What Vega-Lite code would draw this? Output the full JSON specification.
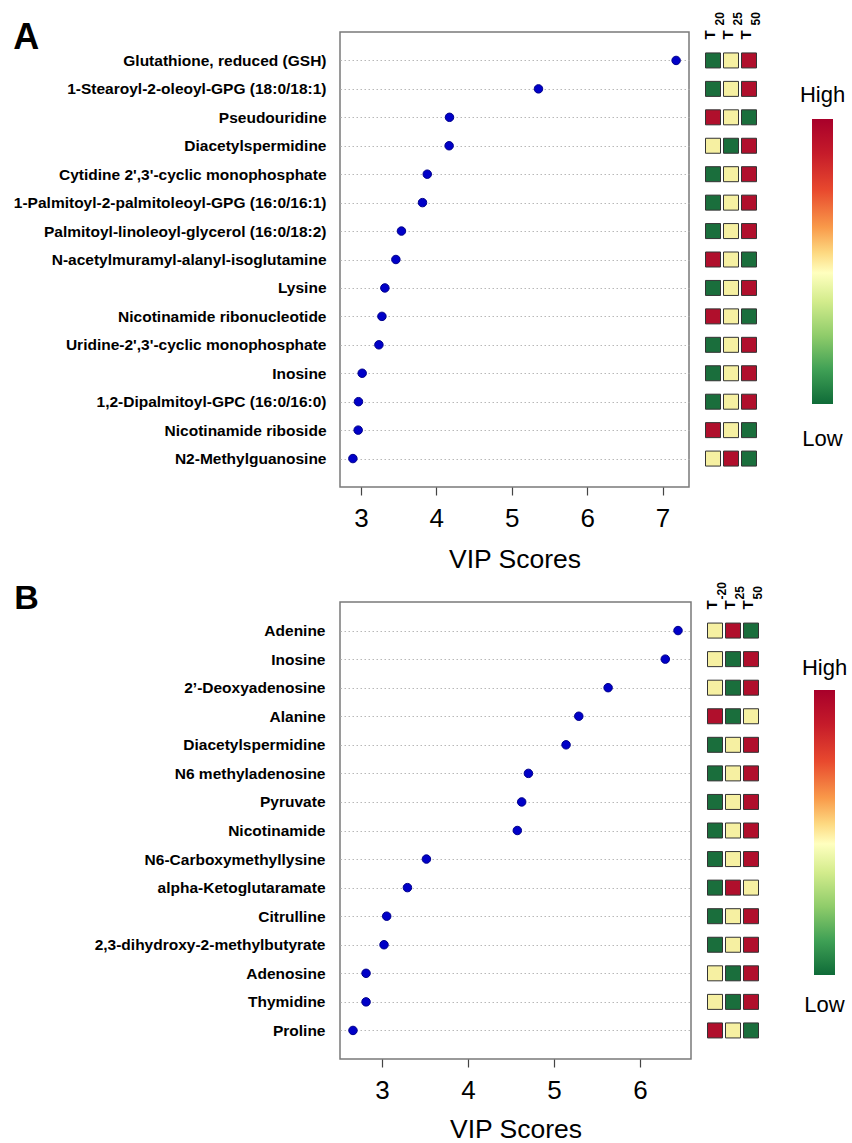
{
  "$schema": "https://vega.github.io/schema/vega-lite/v6.json",
  "background": "white",
  "padding": {"left": 12, "top": 11, "right": 5, "bottom": 0},
  "config": {
    "font": "Liberation Sans",
    "view": {"stroke": "#7a7a7a", "strokeWidth": 1.5},
    "axis": {"labelColor": "black", "titleColor": "black"}
  },
  "datasets": {
    "A": [
      {"metabolite": "Glutathione, reduced (GSH)", "vip": 7.18, "t20": "Low", "t25": "Mid", "t50": "High"},
      {"metabolite": "1-Stearoyl-2-oleoyl-GPG (18:0/18:1)", "vip": 5.355, "t20": "Low", "t25": "Mid", "t50": "High"},
      {"metabolite": "Pseudouridine", "vip": 4.175, "t20": "High", "t25": "Mid", "t50": "Low"},
      {"metabolite": "Diacetylspermidine", "vip": 4.17, "t20": "Mid", "t25": "Low", "t50": "High"},
      {"metabolite": "Cytidine 2',3'-cyclic monophosphate", "vip": 3.88, "t20": "Low", "t25": "Mid", "t50": "High"},
      {"metabolite": "1-Palmitoyl-2-palmitoleoyl-GPG (16:0/16:1)", "vip": 3.817, "t20": "Low", "t25": "Mid", "t50": "High"},
      {"metabolite": "Palmitoyl-linoleoyl-glycerol (16:0/18:2)", "vip": 3.538, "t20": "Low", "t25": "Mid", "t50": "High"},
      {"metabolite": "N-acetylmuramyl-alanyl-isoglutamine", "vip": 3.464, "t20": "High", "t25": "Mid", "t50": "Low"},
      {"metabolite": "Lysine", "vip": 3.318, "t20": "Low", "t25": "Mid", "t50": "High"},
      {"metabolite": "Nicotinamide ribonucleotide", "vip": 3.279, "t20": "High", "t25": "Mid", "t50": "Low"},
      {"metabolite": "Uridine-2',3'-cyclic monophosphate", "vip": 3.239, "t20": "Low", "t25": "Mid", "t50": "High"},
      {"metabolite": "Inosine", "vip": 3.017, "t20": "Low", "t25": "Mid", "t50": "High"},
      {"metabolite": "1,2-Dipalmitoyl-GPC (16:0/16:0)", "vip": 2.968, "t20": "Low", "t25": "Mid", "t50": "High"},
      {"metabolite": "Nicotinamide riboside", "vip": 2.964, "t20": "High", "t25": "Mid", "t50": "Low"},
      {"metabolite": "N2-Methylguanosine", "vip": 2.894, "t20": "Mid", "t25": "High", "t50": "Low"}
    ],
    "B": [
      {"metabolite": "Adenine", "vip": 6.442, "tm20": "Mid", "t25": "High", "t50": "Low"},
      {"metabolite": "Inosine", "vip": 6.294, "tm20": "Mid", "t25": "Low", "t50": "High"},
      {"metabolite": "2’-Deoxyadenosine", "vip": 5.629, "tm20": "Mid", "t25": "Low", "t50": "High"},
      {"metabolite": "Alanine", "vip": 5.288, "tm20": "High", "t25": "Low", "t50": "Mid"},
      {"metabolite": "Diacetylspermidine", "vip": 5.14, "tm20": "Low", "t25": "Mid", "t50": "High"},
      {"metabolite": "N6 methyladenosine", "vip": 4.702, "tm20": "Low", "t25": "Mid", "t50": "High"},
      {"metabolite": "Pyruvate", "vip": 4.624, "tm20": "Low", "t25": "Mid", "t50": "High"},
      {"metabolite": "Nicotinamide", "vip": 4.573, "tm20": "Low", "t25": "Mid", "t50": "High"},
      {"metabolite": "N6-Carboxymethyllysine", "vip": 3.516, "tm20": "Low", "t25": "Mid", "t50": "High"},
      {"metabolite": "alpha-Ketoglutaramate", "vip": 3.295, "tm20": "Low", "t25": "High", "t50": "Mid"},
      {"metabolite": "Citrulline", "vip": 3.054, "tm20": "Low", "t25": "Mid", "t50": "High"},
      {"metabolite": "2,3-dihydroxy-2-methylbutyrate", "vip": 3.023, "tm20": "Low", "t25": "Mid", "t50": "High"},
      {"metabolite": "Adenosine", "vip": 2.814, "tm20": "Mid", "t25": "Low", "t50": "High"},
      {"metabolite": "Thymidine", "vip": 2.814, "tm20": "Mid", "t25": "Low", "t50": "High"},
      {"metabolite": "Proline", "vip": 2.662, "tm20": "High", "t25": "Mid", "t50": "Low"}
    ],
    "legend": [
      {"label": "High", "pos": 1},
      {"label": "Low", "pos": 0}
    ]
  },
  "spacing": 7,
  "vconcat": [
    {
      "spacing": 11,
      "hconcat": [
        {
          "width": 349,
          "height": 455,
          "data": {"name": "A"},
          "title": {"text": "A", "anchor": "start", "frame": "bounds", "fontSize": 36, "fontWeight": "bold", "color": "black", "offset": -25},
          "mark": {"type": "circle", "size": 72, "color": "#0000c8", "opacity": 1, "stroke": "#00008b", "strokeWidth": 1},
          "encoding": {
            "y": {"field": "metabolite", "type": "nominal", "sort": null,
              "scale": {"type": "point", "padding": 1},
              "axis": {"title": null, "ticks": false, "domain": false, "labelPadding": 14, "labelFontSize": 15.5, "labelFontWeight": "bold", "labelLimit": 400,
                "grid": true, "gridDash": [1.5, 2.5], "gridColor": "#b8b8b8", "gridWidth": 1}},
            "x": {"field": "vip", "type": "quantitative",
              "scale": {"domain": [2.723, 7.351], "nice": false, "zero": false},
              "axis": {"title": "VIP Scores", "values": [3, 4, 5, 6, 7], "grid": false, "domain": false, "tickSize": 8, "tickColor": "#444", "tickWidth": 1.2,
                "labelFontSize": 26, "labelPadding": 10, "labelFlush": false, "titleFontSize": 26.5, "titleFontWeight": "normal", "titlePadding": 15}}
          }
        },
        {
          "spacing": 38,
          "hconcat": [
            {
              "width": 54,
              "height": 455,
              "view": {"stroke": null},
              "data": {"name": "A"},
              "transform": [{"fold": ["t20", "t25", "t50"], "as": ["time", "level"]}],
              "encoding": {
                "y": {"field": "metabolite", "type": "nominal", "sort": null, "scale": {"type": "point", "padding": 1}, "axis": null},
                "color": {"field": "level", "type": "nominal", "scale": {"domain": ["High", "Mid", "Low"], "range": ["#b00f2c", "#f6f0a2", "#1a6e3c"]}, "legend": null}
              },
              "layer": [
                {
                  "mark": {"type": "square", "size": 225, "filled": true, "opacity": 1, "stroke": "#333333", "strokeWidth": 1},
                  "encoding": {
                    "x": {"field": "time", "type": "nominal", "sort": ["t20", "t25", "t50"],
                      "scale": {"type": "point", "padding": 0.5},
                      "axis": {"orient": "top", "title": null, "domain": false, "ticks": false, "tickSize": 0, "labelPadding": -7, "labelAngle": 270, "labelAlign": "left", "labelBaseline": "middle",
                        "labelFontSize": 15, "labelFontWeight": "bold", "labelOffset": -4, "labelExpr": "'T'"}}
                  }
                },
                {
                  "mark": {"type": "square", "size": 225, "filled": true, "opacity": 0},
                  "encoding": {
                    "x": {"field": "time", "type": "nominal", "sort": ["t20", "t25", "t50"],
                      "scale": {"type": "point", "padding": 0.5},
                      "axis": {"orient": "top", "title": null, "domain": false, "ticks": false, "tickSize": 0, "labelPadding": 7, "labelAngle": 270, "labelAlign": "left", "labelBaseline": "middle",
                        "labelFontSize": 12, "labelFontWeight": "bold", "labelOffset": 6,
                        "labelExpr": "datum.value == 't20' ? '20' : datum.value == 't25' ? '25' : '50'"}}
                  }
                }
              ],
              "resolve": {"scale": {"x": "independent"}, "axis": {"x": "independent"}}
            },
            {
              "width": 21,
              "height": 455,
              "view": {"stroke": null},
              "layer": [
                {
                  "data": {"values": [{"lo": 0, "hi": 1}]},
                  "mark": {"type": "rect", "color": {"gradient": "linear", "x1": 0, "y1": 0, "x2": 0, "y2": 1,
                    "stops": [
                      {"offset": 0, "color": "#a8002a"},
                      {"offset": 0.12, "color": "#c51b2a"},
                      {"offset": 0.25, "color": "#e8492e"},
                      {"offset": 0.38, "color": "#f99a4a"},
                      {"offset": 0.47, "color": "#fdd981"},
                      {"offset": 0.54, "color": "#ffffbf"},
                      {"offset": 0.64, "color": "#d3ec8c"},
                      {"offset": 0.76, "color": "#8fcc6a"},
                      {"offset": 0.88, "color": "#3fa055"},
                      {"offset": 1, "color": "#0f6b38"}
                    ]}},
                  "encoding": {
                    "y": {"field": "lo", "type": "quantitative", "scale": {"domain": [-0.291, 1.305], "nice": false, "zero": false}, "axis": null},
                    "y2": {"field": "hi"},
                    "x": {"datum": 0, "type": "quantitative", "scale": {"domain": [0, 1], "nice": false}, "axis": null},
                    "x2": {"datum": 1}
                  }
                },
                {
                  "data": {"name": "legend"},
                  "transform": [{"filter": "datum.label == 'High'"}],
                  "mark": {"type": "text", "fontSize": 22, "baseline": "middle", "align": "center", "dy": -24, "color": "black"},
                  "encoding": {
                    "y": {"field": "pos", "type": "quantitative"},
                    "x": {"datum": 0.5, "type": "quantitative"},
                    "text": {"field": "label"}
                  }
                },
                {
                  "data": {"name": "legend"},
                  "transform": [{"filter": "datum.label == 'Low'"}],
                  "mark": {"type": "text", "fontSize": 22, "baseline": "middle", "align": "center", "dy": 35, "color": "black"},
                  "encoding": {
                    "y": {"field": "pos", "type": "quantitative"},
                    "x": {"datum": 0.5, "type": "quantitative"},
                    "text": {"field": "label"}
                  }
                }
              ]
            }
          ]
        }
      ]
    },
    {
      "spacing": 11,
      "hconcat": [
        {
          "width": 351,
          "height": 457,
          "data": {"name": "B"},
          "title": {"text": "B", "anchor": "start", "frame": "bounds", "fontSize": 34, "fontWeight": "bold", "color": "black", "offset": -14, "dx": -80},
          "mark": {"type": "circle", "size": 72, "color": "#0000c8", "opacity": 1, "stroke": "#00008b", "strokeWidth": 1},
          "encoding": {
            "y": {"field": "metabolite", "type": "nominal", "sort": null,
              "scale": {"type": "point", "padding": 1},
              "axis": {"title": null, "ticks": false, "domain": false, "labelPadding": 15, "labelFontSize": 15.5, "labelFontWeight": "bold", "labelLimit": 400,
                "grid": true, "gridDash": [1.5, 2.5], "gridColor": "#b8b8b8", "gridWidth": 1}},
            "x": {"field": "vip", "type": "quantitative",
              "scale": {"domain": [2.511, 6.593], "nice": false, "zero": false},
              "axis": {"title": "VIP Scores", "values": [3, 4, 5, 6], "grid": false, "domain": false, "tickSize": 8, "tickColor": "#444", "tickWidth": 1.2,
                "labelFontSize": 26, "labelPadding": 10, "labelFlush": false, "titleFontSize": 26.5, "titleFontWeight": "normal", "titlePadding": 13}}
          }
        },
        {
          "spacing": 38,
          "hconcat": [
            {
              "width": 54,
              "height": 457,
              "view": {"stroke": null},
              "data": {"name": "B"},
              "transform": [{"fold": ["tm20", "t25", "t50"], "as": ["time", "level"]}],
              "encoding": {
                "y": {"field": "metabolite", "type": "nominal", "sort": null, "scale": {"type": "point", "padding": 1}, "axis": null},
                "color": {"field": "level", "type": "nominal", "scale": {"domain": ["High", "Mid", "Low"], "range": ["#b00f2c", "#f6f0a2", "#1a6e3c"]}, "legend": null}
              },
              "layer": [
                {
                  "mark": {"type": "square", "size": 225, "filled": true, "opacity": 1, "stroke": "#333333", "strokeWidth": 1},
                  "encoding": {
                    "x": {"field": "time", "type": "nominal", "sort": ["tm20", "t25", "t50"],
                      "scale": {"type": "point", "padding": 0.5},
                      "axis": {"orient": "top", "title": null, "domain": false, "ticks": false, "tickSize": 0, "labelPadding": -7, "labelAngle": 270, "labelAlign": "left", "labelBaseline": "middle",
                        "labelFontSize": 15, "labelFontWeight": "bold", "labelOffset": -4, "labelExpr": "'T'"}}
                  }
                },
                {
                  "mark": {"type": "square", "size": 225, "filled": true, "opacity": 0},
                  "encoding": {
                    "x": {"field": "time", "type": "nominal", "sort": ["tm20", "t25", "t50"],
                      "scale": {"type": "point", "padding": 0.5},
                      "axis": {"orient": "top", "title": null, "domain": false, "ticks": false, "tickSize": 0, "labelPadding": 3, "labelAngle": 270, "labelAlign": "left", "labelBaseline": "middle",
                        "labelFontSize": 12, "labelFontWeight": "bold", "labelOffset": 6,
                        "labelExpr": "datum.value == 'tm20' ? '-20' : datum.value == 't25' ? '25' : '50'"}}
                  }
                }
              ],
              "resolve": {"scale": {"x": "independent"}, "axis": {"x": "independent"}}
            },
            {
              "width": 21,
              "height": 457,
              "view": {"stroke": null},
              "layer": [
                {
                  "data": {"values": [{"lo": 0, "hi": 1}]},
                  "mark": {"type": "rect", "color": {"gradient": "linear", "x1": 0, "y1": 0, "x2": 0, "y2": 1,
                    "stops": [
                      {"offset": 0, "color": "#a8002a"},
                      {"offset": 0.12, "color": "#c51b2a"},
                      {"offset": 0.25, "color": "#e8492e"},
                      {"offset": 0.38, "color": "#f99a4a"},
                      {"offset": 0.47, "color": "#fdd981"},
                      {"offset": 0.54, "color": "#ffffbf"},
                      {"offset": 0.64, "color": "#d3ec8c"},
                      {"offset": 0.76, "color": "#8fcc6a"},
                      {"offset": 0.88, "color": "#3fa055"},
                      {"offset": 1, "color": "#0f6b38"}
                    ]}},
                  "encoding": {
                    "y": {"field": "lo", "type": "quantitative", "scale": {"domain": [-0.295, 1.309], "nice": false, "zero": false}, "axis": null},
                    "y2": {"field": "hi"},
                    "x": {"datum": 0, "type": "quantitative", "scale": {"domain": [0, 1], "nice": false}, "axis": null},
                    "x2": {"datum": 1}
                  }
                },
                {
                  "data": {"name": "legend"},
                  "transform": [{"filter": "datum.label == 'High'"}],
                  "mark": {"type": "text", "fontSize": 22, "baseline": "middle", "align": "center", "dy": -22, "color": "black"},
                  "encoding": {
                    "y": {"field": "pos", "type": "quantitative"},
                    "x": {"datum": 0.5, "type": "quantitative"},
                    "text": {"field": "label"}
                  }
                },
                {
                  "data": {"name": "legend"},
                  "transform": [{"filter": "datum.label == 'Low'"}],
                  "mark": {"type": "text", "fontSize": 22, "baseline": "middle", "align": "center", "dy": 30, "color": "black"},
                  "encoding": {
                    "y": {"field": "pos", "type": "quantitative"},
                    "x": {"datum": 0.5, "type": "quantitative"},
                    "text": {"field": "label"}
                  }
                }
              ]
            }
          ]
        }
      ]
    }
  ]
}
